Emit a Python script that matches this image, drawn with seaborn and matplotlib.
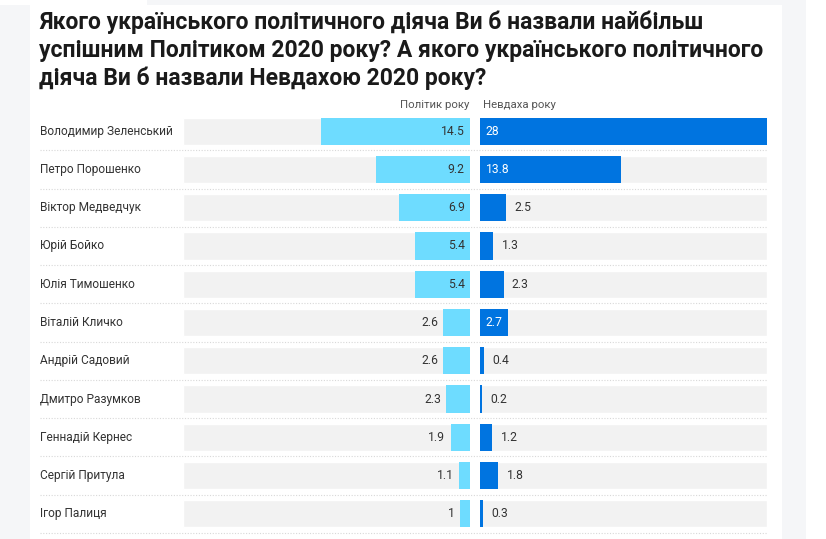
import matplotlib
matplotlib.use("Agg")
import matplotlib.pyplot as plt
import seaborn as sns
import pandas as pd
import numpy as np

names = ["Володимир Зеленський", "Петро Порошенко", "Віктор Медведчук", "Юрій Бойко",
         "Юлія Тимошенко", "Віталій Кличко", "Андрій Садовий", "Дмитро Разумков",
         "Геннадій Кернес", "Сергій Притула", "Ігор Палиця"]
politician = [14.5, 9.2, 6.9, 5.4, 5.4, 2.6, 2.6, 2.3, 1.9, 1.1, 1.0]
loser = [28, 13.8, 2.5, 1.3, 2.3, 2.7, 0.4, 0.2, 1.2, 1.8, 0.3]
col_labels = ["Політик року", "Невдаха року"]
title = ("Якого українського політичного діяча Ви б назвали найбільш\n"
         "успішним Політиком 2020 року? А якого українського політичного\n"
         "діяча Ви б назвали Невдахою 2020 року?")

sns.set_theme(style="white")
plt.rcParams['font.family'] = ['Roboto', 'DejaVu Sans']

W, H = 826, 539
fig = plt.figure(figsize=(W / 100, H / 100), dpi=100)
fig.patch.set_facecolor("#f5f6f8")


def fx(px):
    return px / W


def fy(py):
    return 1 - py / H


# background layer (white card)
bgax = fig.add_axes([0, 0, 1, 1], zorder=-10)
bgax.set_xlim(0, W)
bgax.set_ylim(H, 0)
bgax.axis("off")
bgax.add_patch(plt.Rectangle((30, 5), 782 - 30, H, facecolor="white", edgecolor="none"))
bgax.add_patch(plt.Rectangle((806, 0), 20, H, facecolor="white", edgecolor="none"))
bgax.add_patch(plt.Rectangle((0, 0), 147, 5, facecolor="white", edgecolor="none"))

XMAX = 28.0
n = len(names)
row_top, row_bot = 112, 533
df = pd.DataFrame({"name": names, "pol": politician, "los": loser})

axL = fig.add_axes([fx(183), fy(row_bot), fx(470 - 183), fy(row_top) - fy(row_bot)])
axR = fig.add_axes([fx(480), fy(row_bot), fx(767 - 480), fy(row_top) - fy(row_bot)])

light = "#6edcff"
dark = "#0074e0"
bg = "#f2f2f2"

for ax, col, color in [(axL, "pol", light), (axR, "los", dark)]:
    ax.set_facecolor("none")
    ax.barh(np.arange(n), [XMAX] * n, height=0.71, color=bg, zorder=0)
    sns.barplot(data=df, x=col, y="name", ax=ax, color=color, width=0.71,
                linewidth=0, orient="h", zorder=2, saturation=1)
    ax.set_xlim(0, XMAX)
    ax.set_ylim(n - 0.5, -0.5)
    ax.set_xlabel("")
    ax.set_ylabel("")
    ax.set_xticks([])
    ax.set_yticks([])
    for s in ax.spines.values():
        s.set_visible(False)

axL.invert_xaxis()


def fmt(v):
    return f"{v:g}"


for i, v in enumerate(politician):
    x0 = 0 if v >= 5 else v
    axL.annotate(fmt(v), xy=(x0, i), xytext=(-3.8, 0), textcoords="offset points",
                 ha="right", va="center", fontsize=8.7, color="#333333")

for i, v in enumerate(loser):
    if v >= 2.7:
        axR.annotate(fmt(v), xy=(0, i), xytext=(4, 0), textcoords="offset points",
                     ha="left", va="center", fontsize=8.7, color="white")
    else:
        axR.annotate(fmt(v), xy=(v, i), xytext=(6, 0), textcoords="offset points",
                     ha="left", va="center", fontsize=8.7, color="#333333")

# names and separators
step = (row_bot - row_top) / n
for i, nm in enumerate(names):
    yc = row_top + (i + 0.5) * step
    bgax.text(40, yc, nm, ha="left", va="center", fontsize=8.6, color="#333333")
    ysep = row_top + (i + 1) * step
    bgax.plot([40, 767], [ysep, ysep], color="#d8d8d8", linestyle=(0, (1, 1.5)), linewidth=0.8)

bgax.text(469, 105, col_labels[0], ha="right", va="center", fontsize=8.2, color="#555555")
bgax.text(483, 105, col_labels[1], ha="left", va="center", fontsize=8.2, color="#555555")

bgax.text(39, 11, title, ha="left", va="top", fontsize=16.5, fontweight="bold",
          color="#1a1a1a", linespacing=1.24)

fig.savefig("out.png", dpi=100, facecolor=fig.get_facecolor())
